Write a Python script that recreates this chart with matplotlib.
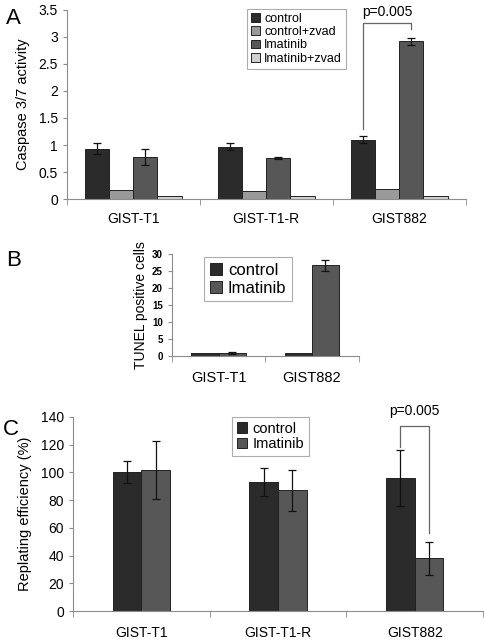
import matplotlib.pyplot as plt
import numpy as np

plt.rcParams['font.family'] = ['Liberation Sans', 'DejaVu Sans']

# Panel A: caspase 3/7 activity
cells_a = ['GIST-T1', 'GIST-T1-R', 'GIST882']
series_a = ['control', 'control+zvad', 'Imatinib', 'Imatinib+zvad']
vals_a = [[0.93, 0.97, 1.10],
          [0.17, 0.15, 0.18],
          [0.78, 0.76, 2.92],
          [0.05, 0.05, 0.05]]
errs_a = [[0.10, 0.06, 0.06],
          [0, 0, 0],
          [0.15, 0.01, 0.06],
          [0, 0, 0]]
colors_a = ['#2b2b2b', '#9a9a9a', '#575757', '#cfcfcf']

# Panel B: TUNEL
cells_b = ['GIST-T1', 'GIST882']
series_b = ['control', 'Imatinib']
vals_b = [[1.0, 1.0], [1.0, 26.7]]
errs_b = [[0, 0], [0.3, 1.7]]

# Panel C: replating efficiency
cells_c = ['GIST-T1', 'GIST-T1-R', 'GIST882']
series_c = ['control', 'Imatinib']
vals_c = [[100, 93, 96], [102, 87, 38]]
errs_c = [[8, 10, 20], [21, 15, 12]]

colors_2 = ['#2b2b2b', '#575757']
spine_col = '#8c8c8c'

fig = plt.figure(figsize=(4.84, 6.41), dpi=100)


def style_axis(ax, n, pad=11):
    for s in ['top', 'right']:
        ax.spines[s].set_visible(False)
    for s in ['left', 'bottom']:
        ax.spines[s].set_color(spine_col)
        ax.spines[s].set_linewidth(0.8)
    ax.set_xlim(-0.5, n - 0.5)
    ax.set_xticks(np.arange(n + 1) - 0.5, minor=True)
    ax.set_xticks(np.arange(n))
    ax.tick_params(axis='x', which='major', length=0, pad=pad)
    ax.tick_params(axis='x', which='minor', length=4, color=spine_col, direction='out')
    ax.tick_params(axis='y', length=3, color=spine_col, direction='out')


def bars(ax, vals, errs, colors, width, ecap=3):
    x = np.arange(len(vals[0]))
    k = len(vals)
    handles = []
    for i in range(k):
        pos = x + (i - (k - 1) / 2) * width
        e = errs[i]
        b = ax.bar(pos, vals[i], width, color=colors[i], edgecolor='#222222', linewidth=0.7, zorder=2)
        handles.append(b)
        idx = [j for j in range(len(e)) if e[j] > 0]
        if idx:
            ax.errorbar(pos[idx], np.array(vals[i])[idx], yerr=np.array(e)[idx], fmt='none',
                        ecolor='#111111', elinewidth=0.9, capsize=ecap, capthick=0.9, zorder=3)
    return handles


def box_legend(ax, handles, labels, anchor, fs, spacing):
    leg = ax.legend(handles, labels, loc='upper left', bbox_to_anchor=anchor, fontsize=fs,
                    frameon=True, fancybox=False, edgecolor='#999999', handlelength=0.7,
                    handleheight=0.7, handletextpad=0.35, labelspacing=spacing, borderpad=0.35)
    leg.get_frame().set_linewidth(0.8)
    return leg


# ---- A ----
axa = fig.add_axes([0.138, 0.6895, 0.824, 0.295])
h = bars(axa, vals_a, errs_a, colors_a, 0.182)
style_axis(axa, 3, pad=9)
axa.set_ylim(0, 3.5)
axa.set_yticks([0, 0.5, 1, 1.5, 2, 2.5, 3, 3.5])
axa.set_yticklabels(['0', '0.5', '1', '1.5', '2', '2.5', '3', '3.5'])
axa.set_xticklabels(cells_a)
axa.tick_params(labelsize=10)
axa.set_ylabel('Caspase 3/7 activity', fontsize=10.5, labelpad=6)
box_legend(axa, h, series_a, (0.435, 1.04), 9, 0.1)
xl, xr = 2 - 1.5 * 0.182, 2 + 0.5 * 0.182
axa.plot([xl, xl, xr, xr], [1.30, 3.26, 3.26, 3.15], color='#666666', lw=0.9, clip_on=False)
axa.text((xl + xr) / 2, 3.34, 'p=0.005', ha='center', va='bottom', fontsize=10)
fig.text(0.012, 0.962, 'A', fontsize=16)

# ---- B ----
axb = fig.add_axes([0.355, 0.4446, 0.386, 0.159])
h = bars(axb, vals_b, errs_b, colors_2, 0.29, ecap=3)
style_axis(axb, 2, pad=11)
axb.set_ylim(0, 30)
axb.set_yticks([0, 5, 10, 15, 20, 25, 30])
axb.set_xticklabels(cells_b)
axb.tick_params(axis='x', labelsize=10.5)
axb.tick_params(axis='y', labelsize=7)
for t in axb.get_yticklabels():
    t.set_fontweight('bold')
axb.set_ylabel('TUNEL positive cells', fontsize=10, labelpad=3)
box_legend(axb, h, series_b, (0.13, 1.05), 12, 0.15)
fig.text(0.012, 0.585, 'B', fontsize=16)

# ---- C ----
axc = fig.add_axes([0.151, 0.0468, 0.847, 0.3027])
h = bars(axc, vals_c, errs_c, colors_2, 0.21)
style_axis(axc, 3, pad=11)
axc.set_ylim(0, 140)
axc.set_yticks(range(0, 141, 20))
axc.set_xticklabels(cells_c)
axc.tick_params(labelsize=10)
axc.set_ylabel('Replating efficiency (%)', fontsize=10.5, labelpad=6)
box_legend(axc, h, series_c, (0.37, 1.04), 10.5, 0.1)
xl, xr = 2 - 0.105, 2 + 0.105
axc.plot([xl, xl, xr, xr], [118, 133.5, 133.5, 56], color='#666666', lw=0.9, clip_on=False)
axc.text((xl + xr) / 2, 139, 'p=0.005', ha='center', va='bottom', fontsize=10)
fig.text(0.006, 0.322, 'C', fontsize=16)

fig.savefig('out.png', dpi=100)
